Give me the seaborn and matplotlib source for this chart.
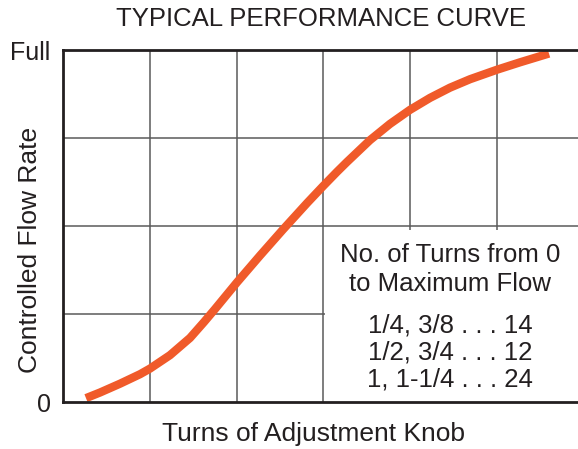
"""Typical performance curve: controlled flow rate vs. knob turns."""
import matplotlib
matplotlib.use("Agg")
import matplotlib.pyplot as plt
import pandas as pd
import seaborn as sns
from matplotlib.patches import Rectangle

# data (x in grid divisions, flow as fraction of full)
turns = [0.265, 0.427, 0.657, 0.888, 1.003, 1.233, 1.464, 1.625, 1.752,
         2.006, 2.271, 2.536, 2.813, 2.997, 3.159, 3.274, 3.539, 3.769,
         4.000, 4.231, 4.461, 4.692, 5.003, 5.268, 5.602]
flow = [0.011, 0.027, 0.052, 0.079, 0.095, 0.133, 0.182, 0.227, 0.264,
        0.340, 0.416, 0.490, 0.565, 0.613, 0.654, 0.682, 0.744, 0.790,
        0.830, 0.864, 0.893, 0.917, 0.944, 0.965, 0.990]
y_ticks = [0, 1]
y_tick_labels = ["0", "Full"]
box_lines = ["No. of Turns from 0", "to Maximum Flow"]
turn_rows = ["1/4, 3/8 . . . 14", "1/2, 3/4 . . . 12", "1, 1-1/4 . . . 24"]

sns.set_style("white")
plt.rcParams["font.family"] = ["Liberation Sans", "DejaVu Sans"]
ink = "#231f20"
orange = "#f05a2a"

fig = plt.figure(figsize=(5.78, 4.49), dpi=100)
ax = fig.add_axes([63 / 578, 47 / 449, 1 - 63 / 578, 352 / 449])

df = pd.DataFrame({"turns": turns, "flow": flow})
sns.lineplot(data=df, x="turns", y="flow", color=orange, lw=6,
             sort=False, estimator=None, ax=ax, zorder=5,
             solid_capstyle="butt", solid_joinstyle="round")

ax.set_xlim(0, 515 / 86.75)
ax.set_ylim(0, 1)
for gx in range(1, 6):
    ax.axvline(gx, color="#5a5a5a", lw=1.1, zorder=1)
for gy in (0.25, 0.5, 0.75):
    ax.axhline(gy, color="#5a5a5a", lw=1.1, zorder=1)
# white panel behind the legend text hides part of the grid
ax.add_patch(Rectangle((3.015, 0), 3, 0.488, facecolor="white",
                       edgecolor="none", zorder=2))

ax.set_xticks([])
ax.set_yticks(y_ticks)
ax.set_yticklabels(y_tick_labels, fontsize=18, color=ink)
ax.tick_params(axis="y", length=0, pad=9)
ax.set_xlabel("")
ax.set_ylabel("")
for side in ("left", "top", "bottom"):
    ax.spines[side].set_color(ink)
    ax.spines[side].set_linewidth(2)
    ax.spines[side].set_zorder(6)
ax.spines["right"].set_visible(False)

fig.text(321 / 578, 1 - 19 / 449, "TYPICAL PERFORMANCE CURVE",
         ha="center", va="center", fontsize=18.5, color=ink)
fig.text(313 / 578, 1 - 434 / 449, "Turns of Adjustment Knob",
         ha="center", va="center", fontsize=19, color=ink)
fig.text(30 / 578, 1 - 250 / 449, "Controlled Flow Rate", rotation=90,
         ha="center", va="center", fontsize=19, color=ink)

for i, line in enumerate(box_lines):
    fig.text(450 / 578, 1 - (255 + 29 * i) / 449, line,
             ha="center", va="center", fontsize=18.5, color=ink)
for i, line in enumerate(turn_rows):
    fig.text(450 / 578, 1 - (325 + 27.5 * i) / 449, line,
             ha="center", va="center", fontsize=18.5, color=ink)

fig.savefig("out.png", dpi=100)
plt.close(fig)
